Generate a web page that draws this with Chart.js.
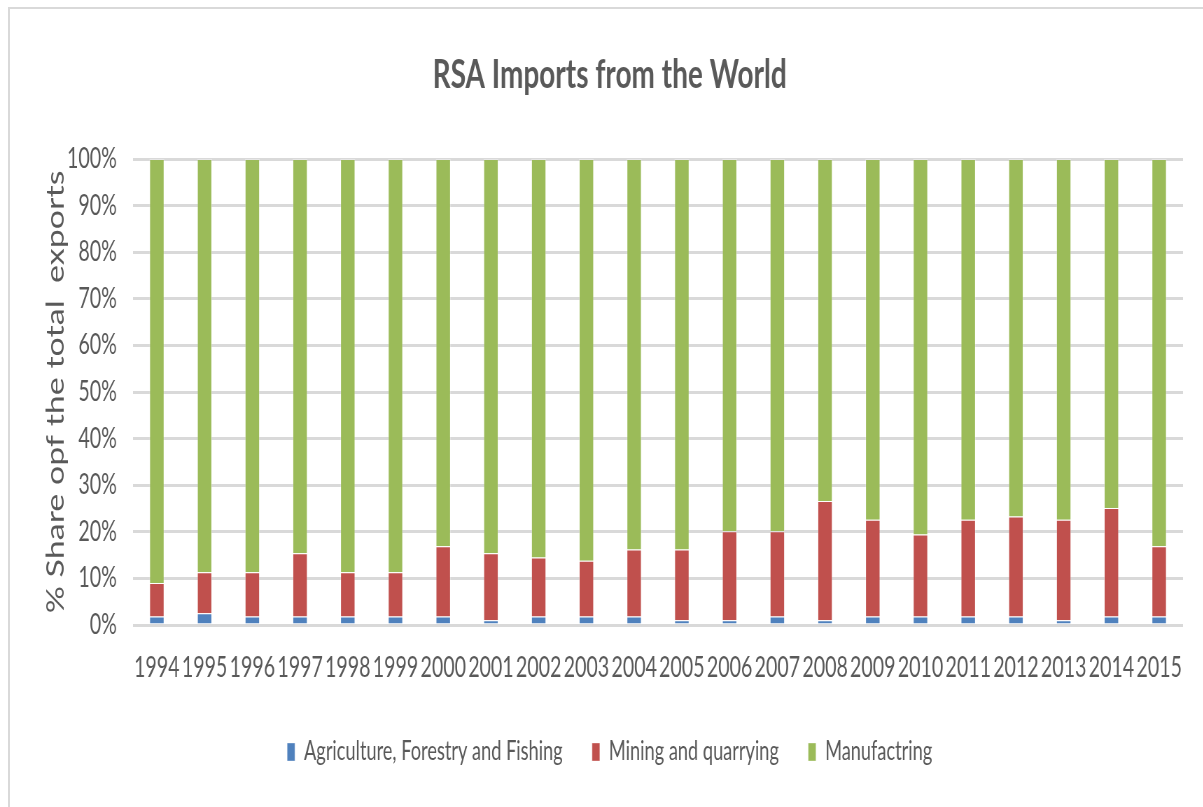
<!DOCTYPE html>
<html>
<head>
<meta charset="utf-8">
<title>RSA Imports from the World</title>
<script src="https://cdn.jsdelivr.net/npm/chart.js@4/dist/chart.umd.min.js"></script>
<style>
  html, body { margin: 0; padding: 0; background: #ffffff; }
  #wrap { position: relative; width: 1203px; height: 807px; overflow: hidden; }
  #frame {
    position: absolute; left: 8px; top: 7px; width: 1300px; height: 900px;
    border-left: 2px solid #d9d9d9; border-top: 2px solid #d9d9d9;
  }
  /* the chart is laid out on a wider canvas and condensed horizontally */
  #squeeze {
    position: absolute; left: 0; top: 0; width: 1719px; height: 807px;
    transform: scaleX(0.7); transform-origin: 0 0;
  }
  canvas { display: block; }
</style>
</head>
<body>
<div id="wrap">
  <div id="frame"></div>
  <div id="squeeze"><canvas id="chart" width="1719" height="807"></canvas></div>
</div>
<script>
// Sector shares (%) of South African imports, 1994-2015
const years = ['1994','1995','1996','1997','1998','1999','2000','2001','2002','2003','2004',
               '2005','2006','2007','2008','2009','2010','2011','2012','2013','2014','2015'];

const agriculture = [1.8, 2.5, 1.8, 1.8, 1.8, 1.8, 1.8, 1.0, 1.8, 1.8, 1.8,
                     1.0, 1.0, 1.8, 1.0, 1.8, 1.8, 1.8, 1.8, 1.0, 1.8, 1.8];

const mining = [7.2, 8.8, 9.5, 13.6, 9.5, 9.5, 15.1, 14.4, 12.7, 12.0, 14.4,
                15.2, 19.1, 18.3, 25.6, 20.8, 17.6, 20.8, 21.5, 21.6, 23.3, 15.1];

const manufacturing = [91.0, 88.7, 88.7, 84.6, 88.7, 88.7, 83.1, 84.6, 85.5, 86.2, 83.8,
                       83.8, 79.9, 79.9, 73.4, 77.4, 80.6, 77.4, 76.7, 77.4, 74.9, 83.1];

const seriesNames = ['Agriculture, Forestry and Fishing', 'Mining and quarrying', 'Manufactring'];
const yTicks = [0, 10, 20, 30, 40, 50, 60, 70, 80, 90, 100];

const FONT = "Lato, 'Open Sans', sans-serif";
const TEXT = '#595959';

function bar(label, data, color) {
  return {
    label: label,
    data: data,
    backgroundColor: color,
    borderColor: 'rgba(255,255,255,0.35)',
    borderWidth: 1,
    barPercentage: 0.314,
    categoryPercentage: 1.0
  };
}

new Chart(document.getElementById('chart'), {
  type: 'bar',
  data: {
    labels: years,
    datasets: [
      bar(seriesNames[0], agriculture, '#4f81bd'),
      bar(seriesNames[1], mining, '#c0504d'),
      bar(seriesNames[2], manufacturing, '#9bbb59')
    ]
  },
  options: {
    responsive: false,
    animation: false,
    layout: { padding: { left: 52, right: 29, top: 0, bottom: 32 } },
    plugins: {
      title: {
        display: true,
        text: 'RSA Imports from the World',
        color: TEXT,
        font: { family: FONT, size: 40, weight: 'bold' },
        padding: { top: 51, bottom: 60 }
      },
      legend: {
        position: 'bottom',
        labels: {
          color: TEXT,
          font: { family: FONT, size: 26 },
          boxWidth: 11,
          boxHeight: 18,
          padding: 42
        }
      },
      tooltip: { enabled: false }
    },
    scales: {
      x: {
        stacked: true,
        grid: { display: false, drawTicks: false },
        border: { display: false },
        ticks: {
          color: TEXT,
          font: { family: FONT, size: 28 },
          autoSkip: false,
          maxRotation: 0,
          minRotation: 0,
          padding: 26
        },
        afterFit: function (scale) { scale.height = 72; }
      },
      y: {
        stacked: true,
        min: 0,
        max: 100,
        afterBuildTicks: function (scale) {
          scale.ticks = yTicks.map(function (v) { return { value: v }; });
        },
        grid: { color: '#d9d9d9', lineWidth: 3, drawTicks: false },
        border: { display: false },
        ticks: {
          color: TEXT,
          font: { family: FONT, size: 28 },
          padding: 23,
          callback: function (v) { return v + '%'; }
        },
        title: {
          display: true,
          text: '% Share opf the total  exports',
          color: TEXT,
          font: { family: FONT, size: 34 },
          padding: { top: 8, bottom: 0 }
        },
        afterFit: function (scale) { scale.width = 138; }
      }
    }
  }
});
</script>
</body>
</html>
